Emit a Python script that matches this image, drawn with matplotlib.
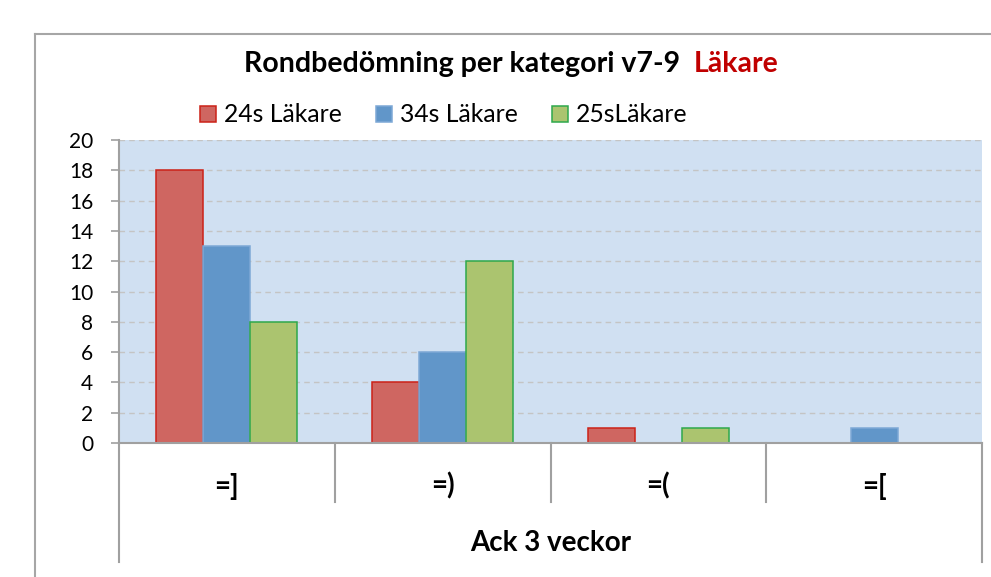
import matplotlib
matplotlib.use('Agg')
import matplotlib.pyplot as plt
from matplotlib.lines import Line2D
import numpy as np

plt.rcParams['font.family'] = ['Lato', 'DejaVu Sans']

categories = ['=]', '=)', '=(', '=[']
series_names = ['24s Läkare', '34s Läkare', '25sLäkare']
vals_24s = [18, 4, 1, 0]
vals_34s = [13, 6, 0, 1]
vals_25s = [8, 12, 1, 0]
group_label = 'Ack 3 veckor'
title_main = 'Rondbedömning per kategori v7-9  '
title_red = 'Läkare'

fills = ['#CF6661', '#6196C9', '#ABC46F']
edges = ['#CC2218', '#7DA8D6', '#2EA84C']
bg = '#D0E0F2'
axis_grey = '#A0A0A0'

W, H = 991, 577
fig = plt.figure(figsize=(W / 100, H / 100), dpi=100)

# plot area in pixels
px_l, px_r, px_t, px_b = 119, 982, 140, 443
ax = fig.add_axes([px_l / W, 1 - px_b / H, (px_r - px_l) / W, (px_b - px_t) / H])
ax.set_facecolor(bg)

x = np.arange(len(categories))
w = 0.218
all_vals = [vals_24s, vals_34s, vals_25s]
for i, vals in enumerate(all_vals):
    ax.bar(x + (i - 1) * w, vals, w, color=fills[i], edgecolor=edges[i],
           linewidth=1.1, label=series_names[i], zorder=3)

ax.set_xlim(-0.5, len(categories) - 0.5)
ax.set_ylim(0, 20)
ax.set_yticks(range(0, 21, 2))
ax.yaxis.grid(True, color='#C4C4C4', linestyle=(0, (4, 3)), linewidth=1.0, zorder=1)
ax.set_axisbelow(True)
ax.tick_params(axis='y', length=5.5, width=1.2, color=axis_grey, labelsize=15, pad=13)
ax.set_xticks([])

for s in ['top', 'right']:
    ax.spines[s].set_visible(False)
for s in ['left', 'bottom']:
    ax.spines[s].set_color(axis_grey)
    ax.spines[s].set_linewidth(1.5)
    ax.spines[s].set_zorder(4)

# category table below the axis
trans = ax.get_xaxis_transform()
h_ax = px_b - px_t
y_sep = -(502 - px_b) / h_ax
y_end = -(562 - px_b) / h_ax
for b in np.arange(0.5, len(categories) - 1, 1.0):
    ax.plot([b, b], [0, y_sep], color=axis_grey, lw=1.5, transform=trans, clip_on=False)
for b in [-0.5, len(categories) - 0.5]:
    ax.plot([b, b], [0, y_end], color=axis_grey, lw=1.5, transform=trans, clip_on=False)
for xi, c in zip(x, categories):
    ax.text(xi, -(486 - px_b) / h_ax, c, transform=trans, ha='center', va='center',
            fontsize=20, fontweight='bold')
ax.text((len(categories) - 1) / 2, -(543 - px_b) / h_ax, group_label, transform=trans,
        ha='center', va='center', fontsize=20, fontweight='bold')

# outer chart border (top and left visible)
fig.add_artist(Line2D([35 / W, 1], [1 - 34 / H, 1 - 34 / H], color='#A6A6A6', lw=1.5))
fig.add_artist(Line2D([35 / W, 35 / W], [1 - 34 / H, 0], color='#A6A6A6', lw=1.5))

# title with red suffix
t1 = fig.text(244 / W, 1 - 72 / H, title_main, fontsize=20.5, fontweight='bold',
              ha='left', va='baseline')
fig.canvas.draw()
ax.annotate(title_red, xy=(1, 0), xycoords=t1, va='bottom', ha='left',
            fontsize=20.5, fontweight='bold', color='#C00000')

fig.legend(loc='center left', bbox_to_anchor=(200 / W, 1 - 115 / H), ncol=3, frameon=False,
           fontsize=17.8, handlelength=0.65, handleheight=0.65, handletextpad=0.32,
           columnspacing=1.38, borderaxespad=0, borderpad=0)

fig.savefig('out.png', dpi=100)
